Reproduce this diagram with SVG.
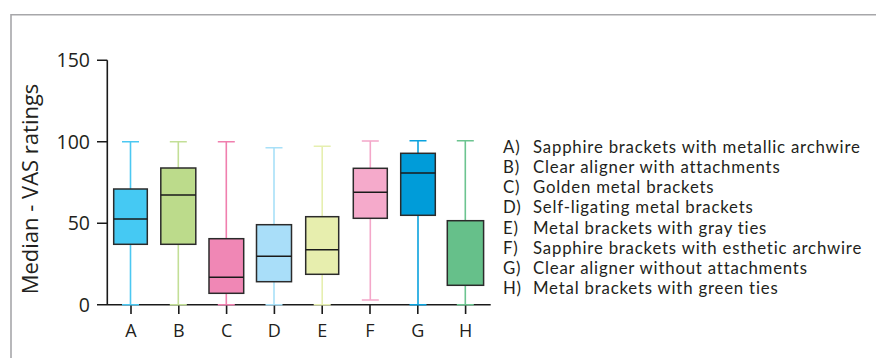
<svg xmlns="http://www.w3.org/2000/svg" width="876" height="358" viewBox="0 0 876 358">
<style>
text{font-family:"Open Sans","Noto Sans","Liberation Sans",sans-serif;fill:#231f20}
.frame{fill:none;stroke:#a7a7aa;stroke-width:1.6}
.axis{fill:none;stroke:#1a1a1a;stroke-width:1.6}
.box{stroke:#2b2b2b;stroke-width:1.5}
.med{stroke:#1a1a1a;stroke-width:1.5}
.wh{fill:none;stroke-width:1.6}
.tick{font-size:19.5px;text-anchor:end}
.xl{font-size:18px;text-anchor:middle}
.leg text{font-family:Lato,"Open Sans",sans-serif;font-size:16.8px;letter-spacing:0.8px}
</style>
<rect width="876" height="358" fill="#fff"/>
<path class="frame" d="M11 358V14.8H876"/>
<g id="axes">
<path class="axis" d="M107.3 60.3V304.7M97 304.7H490.7M97 60.3H107.3M97 141.7H107.3M97 223.3H107.3M131 304.7V314M178.8 304.7V314M226.6 304.7V314M274.4 304.7V314M322.2 304.7V314M370 304.7V314M417.8 304.7V314M465.6 304.7V314"/>
<text class="tick" x="90" y="67">150</text>
<text class="tick" x="90" y="148.5">100</text>
<text class="tick" x="90" y="230">50</text>
<text class="tick" x="90" y="311.5">0</text>
<text class="xl" x="131" y="337">A</text>
<text class="xl" x="178.8" y="337">B</text>
<text class="xl" x="226.6" y="337">C</text>
<text class="xl" x="274.4" y="337">D</text>
<text class="xl" x="322.2" y="337">E</text>
<text class="xl" x="370" y="337">F</text>
<text class="xl" x="417.8" y="337">G</text>
<text class="xl" x="465.6" y="337">H</text>
<text x="38" y="189" font-size="22" text-anchor="middle" transform="rotate(-90 38 189)">Median - VAS ratings</text>
</g>
<g id="connectors">
<path class="wh" stroke="#4cc8f2" d="M130.5 141.7V304.7M122 141.7H139M122 304.7H139"/>
<path class="wh" stroke="#c3df97" d="M178.3 141.7V304.7M169.8 141.7H186.8M169.8 304.7H186.8"/>
<path class="wh" stroke="#f07fae" d="M226.3 141.7V304.7M217.8 141.7H234.8M217.8 304.7H234.8"/>
<path class="wh" stroke="#a8e0f8" d="M274 147.7V304.7M265.5 147.7H282.5M265.5 304.7H282.5"/>
<path class="wh" stroke="#e6efb0" d="M322.2 146.3V304.7M313.7 146.3H330.7M313.7 304.7H330.7"/>
<path class="wh" stroke="#f4a7c9" d="M370.3 141V300M361.8 141H378.8M361.8 300H378.8"/>
<path class="wh" stroke="#0aa2de" d="M418 140.7V304.7M409.5 140.7H426.5M409.5 304.7H426.5"/>
<path class="wh" stroke="#6cc490" d="M465.3 140.7V304.7M456.8 140.7H473.8M456.8 304.7H473.8"/>
</g>
<g id="box-A"><rect class="box" x="113.7" y="189" width="33.6" height="55.3" fill="#45c9f3"/><path class="med" d="M113.7 219H147.3"/></g>
<g id="box-B"><rect class="box" x="160.8" y="168" width="35" height="76.3" fill="#bcdb8b"/><path class="med" d="M160.8 195H195.8"/></g>
<g id="box-C"><rect class="box" x="209" y="238.7" width="34.7" height="54.6" fill="#f087b5"/><path class="med" d="M209 277.3H243.7"/></g>
<g id="box-D"><rect class="box" x="256.5" y="224.7" width="35" height="57" fill="#a9def9"/><path class="med" d="M256.5 256.3H291.5"/></g>
<g id="box-E"><rect class="box" x="305.7" y="216.7" width="33" height="57.6" fill="#e7eeae"/><path class="med" d="M305.7 249.7H338.7"/></g>
<g id="box-F"><rect class="box" x="353.3" y="168.3" width="34" height="50" fill="#f5aacb"/><path class="med" d="M353.3 192.3H387.3"/></g>
<g id="box-G"><rect class="box" x="400.7" y="153.3" width="34.6" height="62" fill="#009cd9"/><path class="med" d="M400.7 173H435.3"/></g>
<g id="box-H"><rect class="box" x="447.3" y="220.7" width="36.3" height="64.6" fill="#66c08a"/></g>
<g id="legend" class="leg">
<text x="503" y="152.7">A)</text><text x="533" y="152.7">Sapphire brackets with metallic archwire</text>
<text x="503" y="172.9">B)</text><text x="533" y="172.9">Clear aligner with attachments</text>
<text x="503" y="193.1">C)</text><text x="533" y="193.1">Golden metal brackets</text>
<text x="503" y="213.3">D)</text><text x="533" y="213.3">Self-ligating metal brackets</text>
<text x="503" y="233.5">E)</text><text x="533" y="233.5">Metal brackets with gray ties</text>
<text x="503" y="253.7">F)</text><text x="533" y="253.7">Sapphire brackets with esthetic archwire</text>
<text x="503" y="273.9">G)</text><text x="533" y="273.9">Clear aligner without attachments</text>
<text x="503" y="294.1">H)</text><text x="533" y="294.1">Metal brackets with green ties</text>
</g>
</svg>
